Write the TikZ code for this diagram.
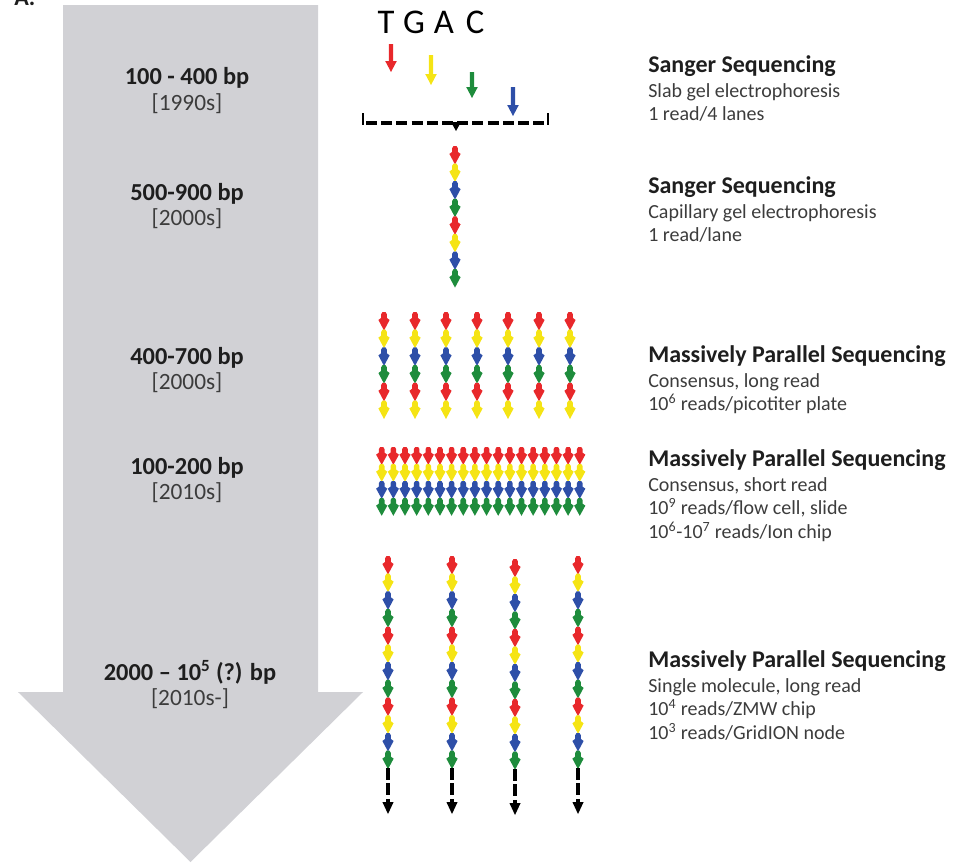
\documentclass[tikz,border=0pt]{standalone}
\usepackage{fontspec}
\setmainfont{Carlito}
\definecolor{arrowgray}{RGB}{209,209,213}
\definecolor{titlecol}{RGB}{30,30,30}
\definecolor{bodycol}{RGB}{60,60,60}
\definecolor{sq0}{RGB}{232,40,43}
\definecolor{sq1}{RGB}{245,228,20}
\definecolor{sq2}{RGB}{46,79,168}
\definecolor{sq3}{RGB}{30,140,60}
% one sequencing unit: x, ytop, colour, height
\newcommand\squnit[4]{%
  \fill[#3] ({#1-1.5},{#2}) -- ({#1+1.5},{#2}) -- ({#1+2.8},{#2+0.12*#4}) -- ({#1+2.8},{#2+0.33*#4}) -- ({#1+5.6},{#2+0.45*#4})
    -- ({#1},{#2+#4+0.8}) -- ({#1-5.6},{#2+0.45*#4}) -- ({#1-2.8},{#2+0.33*#4}) -- ({#1-2.8},{#2+0.12*#4}) -- cycle;}
% column of units: x, ytop, count, height
\newcommand\seqcol[4]{%
  \foreach \i in {1,...,#3}{%
    \pgfmathtruncatemacro\k{mod(\i-1,4)}%
    \squnit{#1}{#2+(\i-1)*#4}{sq\k}{#4}}}
% single coloured arrow: x, ytop, ybottom, colour
\newcommand\slabarrow[4]{%
  \fill[#4] ({#1-2.2},{#2}) -- ({#1+2.2},{#2}) -- ({#1+2.2},{#3-11}) -- ({#1+5.8},{#3-11})
    -- ({#1},{#3}) -- ({#1-5.8},{#3-11}) -- ({#1-2.2},{#3-11}) -- cycle;}
% black dashed continuation: x, ytop
\newcommand\blacktail[2]{%
  \draw[line width=3pt, dash pattern=on 9pt off 2.6pt] ({#1},{#2}) -- ({#1},{#2+34});
  \fill[black] ({#1-5.6},{#2+34}) -- ({#1+5.6},{#2+34}) -- ({#1},{#2+46}) -- cycle;}
\tikzset{
  ttl/.style={anchor=base west, inner sep=0pt, text=titlecol, font=\fontsize{18}{21}\selectfont\bfseries},
  bdy/.style={anchor=base west, inner sep=0pt, text=bodycol, font=\fontsize{15}{18}\selectfont},
  lbold/.style={anchor=base, inner sep=0pt, text=titlecol, font=\fontsize{18.3}{21}\selectfont\bfseries},
  lyear/.style={anchor=base, inner sep=0pt, text=bodycol, font=\fontsize{17.5}{21}\selectfont},
  base/.style={anchor=base, inner sep=0pt, text=black, font=\fontsize{26}{30}\selectfont}
}
\begin{document}
\begin{tikzpicture}[x=0.75pt,y=-0.75pt]
\useasboundingbox (0,0) rectangle (955,864);
% big grey time arrow
\fill[arrowgray] (63,5) -- (318,5) -- (318,692) -- (363,692) -- (190.5,862) -- (18,692) -- (63,692) -- cycle;
% panel label (cut at top edge, as in the source)
\node[anchor=base west, inner sep=0pt, font=\fontsize{18}{21}\selectfont\bfseries, text=titlecol] (lblA) at (14,5) {A.};
% left labels
\node[lbold] (l1a) at (187,84) {100 - 400 bp};
\node[lyear] (l1b) at (187,110) {[1990s]};
\node[lbold] (l2a) at (187,200) {500-900 bp};
\node[lyear] (l2b) at (187,225) {[2000s]};
\node[lbold] (l3a) at (187,364) {400-700 bp};
\node[lyear] (l3b) at (187,389) {[2000s]};
\node[lbold] (l4a) at (187,474) {100-200 bp};
\node[lyear] (l4b) at (187,499) {[2010s]};
\node[lbold] (l5a) at (190,680) {2000 -- 10\textsuperscript{5} (?) bp};
\node[lyear] (l5b) at (190,705) {[2010s-]};
% TGAC
\node[base] (bT) at (386,33) {T};
\node[base] (bG) at (414,33) {G};
\node[base] (bA) at (444,33) {A};
\node[base] (bC) at (475,33) {C};
% slab gel arrows
\slabarrow{391}{44}{72}{sq0}
\slabarrow{431}{55}{85}{sq1}
\slabarrow{472}{72}{98}{sq3}
\slabarrow{513}{87}{116}{sq2}
% bracket
\draw[line width=2.7pt, dash pattern=on 8.2pt off 3.2pt] (366,123) -- (546,123);
\draw[line width=2.2pt] (363,113) -- (363,125);
\draw[line width=2.2pt] (548,113) -- (548,125);
\fill (451,122) -- (461,122) -- (456,131) -- cycle;
% capillary column
\seqcol{455}{146}{8}{17.6}
% massively parallel, long read consensus
\foreach \x in {384,415,446,477,508,539,570}{\seqcol{\x}{312}{6}{17.7}}
% short read
\foreach \j in {0,...,17}{\pgfmathsetmacro\xx{381.7+11.65*\j}\seqcol{\xx}{447}{4}{17}}
% single molecule
\seqcol{388}{556}{12}{17.7}\blacktail{388}{768}
\seqcol{452}{556}{12}{17.7}\blacktail{452}{768}
\seqcol{515}{559}{12}{17.5}\blacktail{515}{769}
\seqcol{578}{556}{12}{17.7}\blacktail{578}{768}
% right descriptions
\node[ttl] (r1t) at (648,72) {Sanger Sequencing};
\node[bdy] (r1a) at (648,97) {Slab gel electrophoresis};
\node[bdy] (r1b) at (648,120) {1 read/4 lanes};
\node[ttl] (r2t) at (648,193) {Sanger Sequencing};
\node[bdy] (r2a) at (648,218) {Capillary gel electrophoresis};
\node[bdy] (r2b) at (648,241) {1 read/lane};
\node[ttl] (r3t) at (648,362) {Massively Parallel Sequencing};
\node[bdy] (r3a) at (648,387) {Consensus, long read};
\node[bdy] (r3b) at (648,410) {10\textsuperscript{6} reads/picotiter plate};
\node[ttl] (r4t) at (648,466) {Massively Parallel Sequencing};
\node[bdy] (r4a) at (648,491) {Consensus, short read};
\node[bdy] (r4b) at (648,514) {10\textsuperscript{9} reads/flow cell, slide};
\node[bdy] (r4c) at (648,538) {10\textsuperscript{6}-10\textsuperscript{7} reads/Ion chip};
\node[ttl] (r5t) at (648,667) {Massively Parallel Sequencing};
\node[bdy] (r5a) at (648,692) {Single molecule, long read};
\node[bdy] (r5b) at (648,715) {10\textsuperscript{4} reads/ZMW chip};
\node[bdy] (r5c) at (648,739) {10\textsuperscript{3} reads/GridION node};
\end{tikzpicture}
\end{document}
